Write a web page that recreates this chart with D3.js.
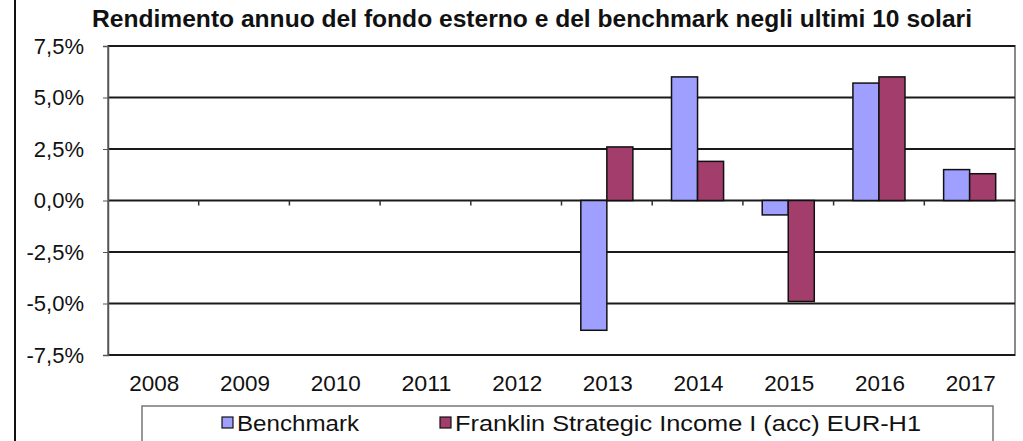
<!DOCTYPE html>
<html>
<head>
<meta charset="utf-8">
<script src="https://cdn.jsdelivr.net/npm/d3@7"></script>
<style>
  body { margin: 0; background: #fff; }
  svg text { font-family: "Liberation Sans", Arial, sans-serif; fill: #111; }
</style>
</head>
<body>
<svg id="chart" width="1023" height="441"></svg>
<script>
var years = ["2008", "2009", "2010", "2011", "2012", "2013", "2014", "2015", "2016", "2017"];
var seriesNames = ["Benchmark", "Franklin Strategic Income I (acc) EUR-H1"];
var benchmark = [null, null, null, null, null, -6.3, 6.0, -0.7, 5.7, 1.5];
var fund = [null, null, null, null, null, 2.6, 1.9, -4.9, 6.0, 1.3];
var yTicks = [-7.5, -5.0, -2.5, 0, 2.5, 5.0, 7.5];
var colors = ["#9f9fff", "#a33d6b"];

var svg = d3.select("#chart"),
    margin = {top: 46, right: 8, bottom: 86, left: 108},
    w = +svg.attr("width") - margin.left - margin.right,
    h = +svg.attr("height") - margin.top - margin.bottom;

var x0 = d3.scaleBand().domain(years).range([0, w]);
var x1 = d3.scaleBand().domain(seriesNames)
    .range([x0.bandwidth() * 0.213, x0.bandwidth() * 0.787]);
var y = d3.scaleLinear().domain([-7.5, 7.5]).range([h, 0]);
var fmt = function(d) {
  return d3.format(".1f")(d).replace(".", ",").replace("\u2212", "-") + "%";
};

// left edge of the chart box
svg.append("line").attr("x1", 15).attr("x2", 15).attr("y1", 0).attr("y2", 441)
    .attr("stroke", "#111").attr("stroke-width", 2);

svg.append("text")
    .attr("x", 532).attr("y", 27)
    .attr("text-anchor", "middle")
    .attr("textLength", 880).attr("lengthAdjust", "spacingAndGlyphs")
    .style("font-size", "23px").style("font-weight", "bold")
    .text("Rendimento annuo del fondo esterno e del benchmark negli ultimi 10 solari");

var g = svg.append("g")
    .attr("transform", "translate(" + margin.left + "," + margin.top + ")");

g.append("rect").attr("width", w).attr("height", h)
    .attr("fill", "none").attr("stroke", "#8a8a8a").attr("stroke-width", 2);

g.selectAll(".grid")
    .data(yTicks)
  .enter().append("line")
    .attr("class", "grid")
    .attr("x1", 0).attr("x2", w)
    .attr("y1", function(d) { return y(d); })
    .attr("y2", function(d) { return y(d); })
    .attr("stroke", "#1a1a1a").attr("stroke-width", 2);

var yAxis = g.append("g")
    .call(d3.axisLeft(y).tickValues(yTicks).tickFormat(fmt).tickSize(5).tickPadding(19));
yAxis.select(".domain").attr("stroke", "#555").attr("stroke-width", 1.5);
yAxis.selectAll(".tick line").attr("stroke", "#555");
yAxis.selectAll("text").style("font-size", "22px").style("font-family", "'Liberation Sans', Arial, sans-serif").attr("fill", "#111");

// category ticks on the zero line
g.selectAll(".ctick")
    .data(years.slice(1))
  .enter().append("line")
    .attr("class", "ctick")
    .attr("x1", function(d) { return x0(d); })
    .attr("x2", function(d) { return x0(d); })
    .attr("y1", y(0)).attr("y2", y(0) + 5)
    .attr("stroke", "#333").attr("stroke-width", 1.5);

var rows = years.map(function(yr, i) {
  return {year: yr, values: [benchmark[i], fund[i]]};
});

var grp = g.selectAll(".grp")
    .data(rows)
  .enter().append("g")
    .attr("class", "grp")
    .attr("transform", function(d) { return "translate(" + x0(d.year) + ",0)"; });

grp.selectAll("rect")
    .data(function(d) {
      return d.values.map(function(v, i) { return {name: seriesNames[i], value: v, i: i}; })
        .filter(function(e) { return e.value !== null; });
    })
  .enter().append("rect")
    .attr("x", function(d) { return x1(d.name); })
    .attr("width", x1.bandwidth())
    .attr("y", function(d) { return y(Math.max(0, d.value)); })
    .attr("height", function(d) { return Math.abs(y(d.value) - y(0)); })
    .attr("fill", function(d) { return colors[d.i]; })
    .attr("stroke", "#111").attr("stroke-width", 1.5);

g.selectAll(".xlab")
    .data(years)
  .enter().append("text")
    .attr("class", "xlab")
    .attr("x", function(d) { return x0(d) + x0.bandwidth() / 2 + 1; })
    .attr("y", h + 36)
    .attr("text-anchor", "middle")
    .attr("textLength", 50).attr("lengthAdjust", "spacingAndGlyphs")
    .style("font-size", "22px")
    .text(function(d) { return d; });

// legend
var leg = svg.append("g");
leg.append("rect").attr("x", 142).attr("y", 406).attr("width", 851).attr("height", 45)
    .attr("fill", "#fff").attr("stroke", "#777").attr("stroke-width", 1.5);

var legX = [222, 440], legTextLen = [122, 466];
seriesNames.forEach(function(name, i) {
  leg.append("rect").attr("x", legX[i]).attr("y", 417).attr("width", 11).attr("height", 11)
      .attr("fill", colors[i]).attr("stroke", "#111").attr("stroke-width", 1.2);
  leg.append("text").attr("x", legX[i] + 15).attr("y", 431)
      .attr("textLength", legTextLen[i]).attr("lengthAdjust", "spacingAndGlyphs")
      .style("font-size", "22px")
      .text(name);
});
</script>
</body>
</html>
